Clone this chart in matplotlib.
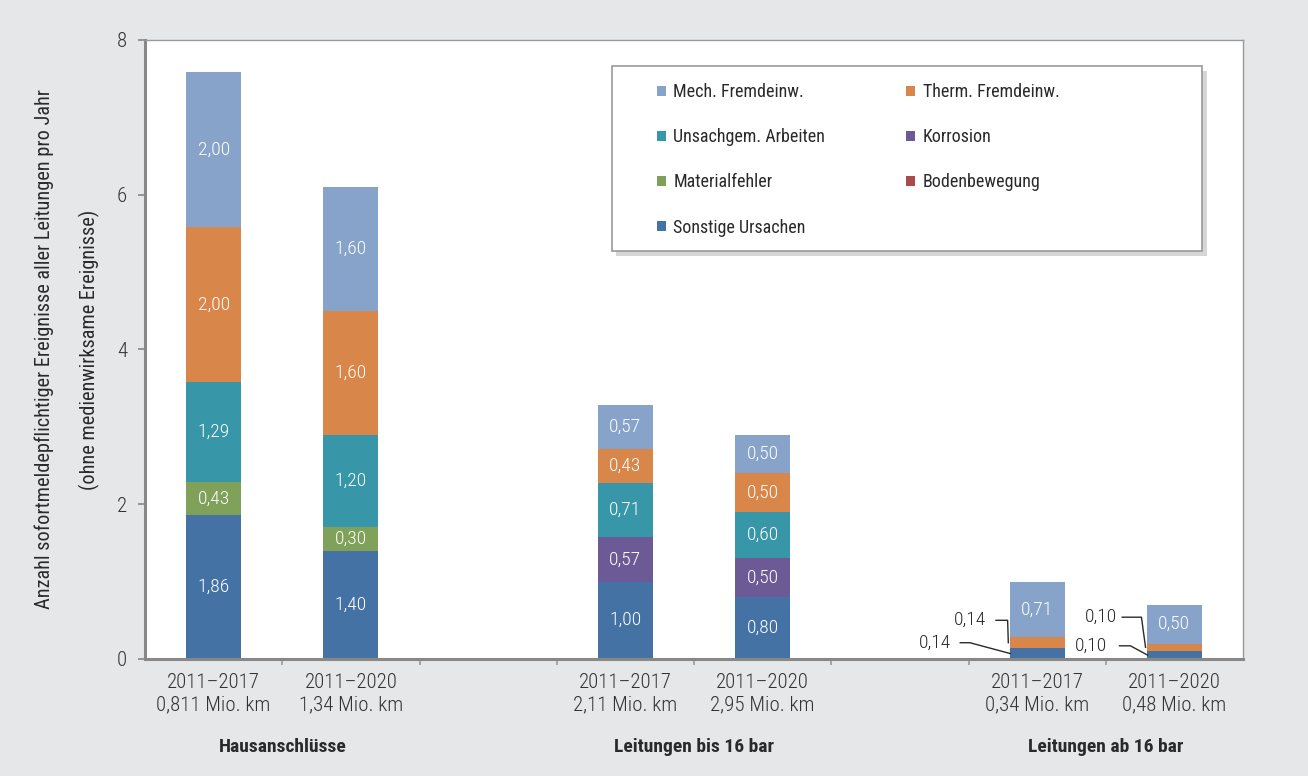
import matplotlib
matplotlib.use("Agg")
import matplotlib.pyplot as plt
from matplotlib import font_manager as fm
from matplotlib.patches import Rectangle, Patch
import numpy as np

# pick a condensed sans face if one is installed
available = {f.name for f in fm.fontManager.ttflist}
narrow = next((n for n in ["Roboto Condensed", "Archivo Narrow", "PT Sans Narrow",
                           "Fira Sans Condensed", "IBM Plex Sans Condensed",
                           "Encode Sans Condensed", "Liberation Sans Narrow"]
               if n in available), "DejaVu Sans")
plt.rcParams['font.family'] = [narrow, 'DejaVu Sans']

# --- data -------------------------------------------------------------
series = ["Sonstige Ursachen", "Bodenbewegung", "Materialfehler", "Korrosion",
          "Unsachgem. Arbeiten", "Therm. Fremdeinw.", "Mech. Fremdeinw."]
colors = ["#4472a5", "#a84b4a", "#7fa15a", "#6b5a95", "#3797a9", "#d9864a", "#87a3c9"]

# slot index of each bar (empty slots separate the three groups)
bar_slots = [0, 1, 3, 4, 6, 7]
periods = ["2011–2017", "2011–2020", "2011–2017", "2011–2020", "2011–2017", "2011–2020"]
lengths = ["0,811 Mio. km", "1,34 Mio. km", "2,11 Mio. km", "2,95 Mio. km",
           "0,34 Mio. km", "0,48 Mio. km"]
groups = ["Hausanschlüsse", "Leitungen bis 16 bar", "Leitungen ab 16 bar"]

sonstige    = [1.86, 1.40, 1.00, 0.80, 0.14, 0.10]
bodenbeweg  = [0.00, 0.00, 0.00, 0.00, 0.00, 0.00]
material    = [0.43, 0.30, 0.00, 0.00, 0.00, 0.00]
korrosion   = [0.00, 0.00, 0.57, 0.50, 0.00, 0.00]
unsachgem   = [1.29, 1.20, 0.71, 0.60, 0.00, 0.00]
therm       = [2.00, 1.60, 0.43, 0.50, 0.14, 0.10]
mech        = [2.00, 1.60, 0.57, 0.50, 0.71, 0.50]

values = [sonstige, bodenbeweg, material, korrosion, unsachgem, therm, mech]

def fmt(v):
    return f"{v:.2f}".replace(".", ",")

# --- figure -----------------------------------------------------------
bg = "#e6e7e8"
txt = "#2a2a2a"
fig = plt.figure(figsize=(13.08, 7.76), dpi=100, facecolor=bg)
ax = fig.add_axes([0.1109, 0.1508, 0.8394, 0.7977])
ax.set_facecolor("white")

x = np.array(bar_slots, dtype=float)
width = 0.4
bottom = np.zeros(len(x))
for name, vals, col in zip(series, values, colors):
    vals = np.array(vals)
    ax.bar(x, vals, width, bottom=bottom, color=col, label=name, zorder=2)
    for xi, b, v in zip(x, bottom, vals):
        if v >= 0.25:
            ax.text(xi, b + v / 2, fmt(v), ha="center", va="center",
                    color="white", fontsize=14, fontweight="light", zorder=3)
    bottom += vals

# small segments of the high-pressure bars get outside labels with leader lines.
# offsets are relative to the bar's left edge: (text x, text y, line start, elbow)
callouts = {
    4: {"upper": (-0.175, 0.50, -0.10, -0.015), "lower": (-0.43, 0.21, -0.36, -0.29)},
    5: {"upper": (-0.22, 0.54, -0.18, -0.04), "lower": (-0.29, 0.17, -0.20, -0.12)},
}

def leader(left, seg_y, spec, end_dx, text):
    tx, ty, sx, ex = spec
    ax.text(left + tx, ty, text, ha="right", va="center", fontsize=14,
            fontweight="light", color=txt)
    ax.plot([left + sx, left + ex, left + end_dx], [ty, ty, seg_y], color=txt,
            lw=1.0, zorder=4, clip_on=False)

for i, spec in callouts.items():
    left = x[i] - width / 2
    s, t = sonstige[i], therm[i]
    leader(left, s + t / 2, spec["upper"], -0.01, fmt(t))
    leader(left, s / 2, spec["lower"], 0.005, fmt(s))

# --- axes styling -----------------------------------------------------
ax.set_xlim(-0.5, 7.5)
ax.set_ylim(0, 8)
ax.set_yticks([0, 2, 4, 6, 8])
ax.set_yticklabels(["0", "2", "4", "6", "8"], fontweight="light")
ax.tick_params(axis="y", length=5, width=1.2, color="#888888", labelsize=15,
               labelcolor="#333333", pad=8)

ax.set_xticks(x)
ax.set_xticklabels([f"{p}\n{l}" for p, l in zip(periods, lengths)],
                   fontsize=15, color="#333333", linespacing=1.25, fontweight="light")
ax.tick_params(axis="x", which="major", length=0, pad=10)
ax.set_xticks(np.arange(0.5, 7.5, 1.0), minor=True)
ax.tick_params(axis="x", which="minor", length=4, width=1.2, color="#999999")

for side in ["left", "bottom"]:
    ax.spines[side].set_color("#888888")
    ax.spines[side].set_linewidth(2.2)
for side in ["top", "right"]:
    ax.spines[side].set_color("#999999")
    ax.spines[side].set_linewidth(1.0)

ax.set_ylabel("Anzahl sofortmeldepflichtiger Ereignisse aller Leitungen pro Jahr\n"
              "(ohne medienwirksame Ereignisse)", fontsize=14.6, color=txt,
              linespacing=2.5, labelpad=12)

for gi, g in enumerate(groups):
    gx = (x[2 * gi] + x[2 * gi + 1]) / 2
    ax.text(gx, -0.142, g, transform=ax.get_xaxis_transform(), ha="center",
            va="center", fontsize=14, fontweight="bold", color=txt)

# --- legend -----------------------------------------------------------
fx0, fy0, fw, fh = 0.425, 0.659, 0.538, 0.299
shadow = Rectangle((fx0 + 0.004, fy0 - 0.008), fw, fh, transform=ax.transAxes,
                   facecolor="#bbbbbb", edgecolor="none", alpha=0.6, zorder=5)
frame = Rectangle((fx0, fy0), fw, fh, transform=ax.transAxes, facecolor="white",
                  edgecolor="#999999", lw=1.2, zorder=6)
ax.add_patch(shadow)
ax.add_patch(frame)

handles = {n: Patch(facecolor=c, edgecolor="none") for n, c in zip(series, colors)}
order = ["Mech. Fremdeinw.", "Unsachgem. Arbeiten", "Materialfehler", "Sonstige Ursachen",
         "Therm. Fremdeinw.", "Korrosion", "Bodenbewegung"]
leg = ax.legend([handles[n] for n in order], order, ncol=2, loc="upper left",
                bbox_to_anchor=(0.4663, 0.930), frameon=False, fontsize=13,
                handlelength=0.5, handleheight=0.5, handletextpad=0.4,
                labelspacing=1.5, columnspacing=4.5, borderpad=0, borderaxespad=0)
leg.set_zorder(7)
for t in leg.get_texts():
    t.set_color(txt)

fig.savefig("out.png", dpi=100, facecolor=bg)
